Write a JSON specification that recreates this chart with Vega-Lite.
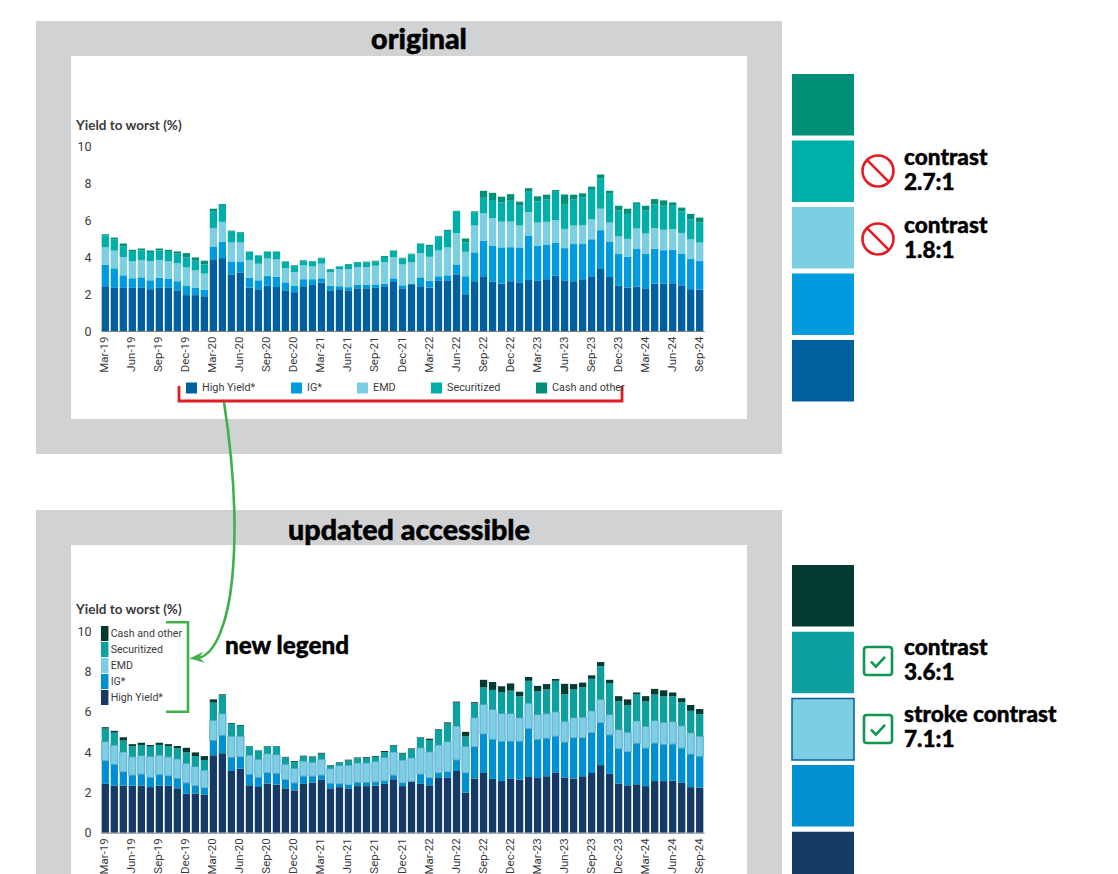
{"$schema":"https://vega.github.io/schema/vega-lite/v6.json","width":1118,"height":874,"padding":0,"autosize":{"type":"none"},"background":"white","config":{"view":{"stroke":null},"axis":{"grid":false}},
"datasets":{"yields":[
{"m":"Mar-19","High Yield*":2.42,"IG*":1.15,"EMD":0.95,"Securitized":0.64,"Cash and other":0.07},
{"m":"Apr-19","High Yield*":2.33,"IG*":1.06,"EMD":0.95,"Securitized":0.62,"Cash and other":0.09},
{"m":"May-19","High Yield*":2.33,"IG*":0.68,"EMD":0.99,"Securitized":0.57,"Cash and other":0.16},
{"m":"Jun-19","High Yield*":2.33,"IG*":0.52,"EMD":0.91,"Securitized":0.52,"Cash and other":0.11},
{"m":"Jul-19","High Yield*":2.33,"IG*":0.57,"EMD":0.92,"Securitized":0.53,"Cash and other":0.11},
{"m":"Aug-19","High Yield*":2.26,"IG*":0.48,"EMD":1.04,"Securitized":0.49,"Cash and other":0.08},
{"m":"Sep-19","High Yield*":2.33,"IG*":0.54,"EMD":0.97,"Securitized":0.51,"Cash and other":0.11},
{"m":"Oct-19","High Yield*":2.33,"IG*":0.48,"EMD":0.95,"Securitized":0.52,"Cash and other":0.11},
{"m":"Nov-19","High Yield*":2.2,"IG*":0.49,"EMD":0.97,"Securitized":0.52,"Cash and other":0.12},
{"m":"Dec-19","High Yield*":1.94,"IG*":0.52,"EMD":0.98,"Securitized":0.54,"Cash and other":0.23},
{"m":"Jan-20","High Yield*":1.94,"IG*":0.39,"EMD":0.95,"Securitized":0.52,"Cash and other":0.18},
{"m":"Feb-20","High Yield*":1.88,"IG*":0.34,"EMD":0.88,"Securitized":0.5,"Cash and other":0.2},
{"m":"Mar-20","High Yield*":3.84,"IG*":0.73,"EMD":1.0,"Securitized":0.88,"Cash and other":0.16},
{"m":"Apr-20","High Yield*":3.94,"IG*":0.88,"EMD":1.08,"Securitized":0.91,"Cash and other":0.05},
{"m":"May-20","High Yield*":3.06,"IG*":0.67,"EMD":1.05,"Securitized":0.61,"Cash and other":0.04},
{"m":"Jun-20","High Yield*":3.17,"IG*":0.59,"EMD":1.02,"Securitized":0.52,"Cash and other":0.04},
{"m":"Jul-20","High Yield*":2.35,"IG*":0.54,"EMD":0.95,"Securitized":0.44,"Cash and other":0.02},
{"m":"Aug-20","High Yield*":2.26,"IG*":0.48,"EMD":0.9,"Securitized":0.43,"Cash and other":0.02},
{"m":"Sep-20","High Yield*":2.44,"IG*":0.53,"EMD":0.95,"Securitized":0.36,"Cash and other":0.02},
{"m":"Oct-20","High Yield*":2.38,"IG*":0.56,"EMD":0.93,"Securitized":0.41,"Cash and other":0.02},
{"m":"Nov-20","High Yield*":2.2,"IG*":0.43,"EMD":0.76,"Securitized":0.34,"Cash and other":0.03},
{"m":"Dec-20","High Yield*":2.1,"IG*":0.36,"EMD":0.73,"Securitized":0.32,"Cash and other":0.04},
{"m":"Jan-21","High Yield*":2.42,"IG*":0.38,"EMD":0.75,"Securitized":0.23,"Cash and other":0.04},
{"m":"Feb-21","High Yield*":2.49,"IG*":0.31,"EMD":0.69,"Securitized":0.26,"Cash and other":0.03},
{"m":"Mar-21","High Yield*":2.62,"IG*":0.23,"EMD":0.79,"Securitized":0.28,"Cash and other":0.04},
{"m":"Apr-21","High Yield*":2.2,"IG*":0.24,"EMD":0.73,"Securitized":0.15,"Cash and other":0.03},
{"m":"May-21","High Yield*":2.26,"IG*":0.16,"EMD":0.91,"Securitized":0.13,"Cash and other":0.03},
{"m":"Jun-21","High Yield*":2.2,"IG*":0.17,"EMD":0.98,"Securitized":0.23,"Cash and other":0.04},
{"m":"Jul-21","High Yield*":2.31,"IG*":0.18,"EMD":0.97,"Securitized":0.23,"Cash and other":0.04},
{"m":"Aug-21","High Yield*":2.31,"IG*":0.18,"EMD":0.97,"Securitized":0.25,"Cash and other":0.04},
{"m":"Sep-21","High Yield*":2.33,"IG*":0.18,"EMD":1.02,"Securitized":0.23,"Cash and other":0.04},
{"m":"Oct-21","High Yield*":2.42,"IG*":0.14,"EMD":1.17,"Securitized":0.27,"Cash and other":0.05},
{"m":"Nov-21","High Yield*":2.65,"IG*":0.2,"EMD":1.15,"Securitized":0.32,"Cash and other":0.03},
{"m":"Dec-21","High Yield*":2.31,"IG*":0.16,"EMD":1.13,"Securitized":0.32,"Cash and other":0.04},
{"m":"Jan-22","High Yield*":2.53,"IG*":0.01,"EMD":1.17,"Securitized":0.43,"Cash and other":0.04},
{"m":"Feb-22","High Yield*":2.42,"IG*":0.48,"EMD":1.31,"Securitized":0.49,"Cash and other":0.03},
{"m":"Mar-22","High Yield*":2.35,"IG*":0.37,"EMD":1.29,"Securitized":0.58,"Cash and other":0.07},
{"m":"Apr-22","High Yield*":2.71,"IG*":0.25,"EMD":1.39,"Securitized":0.76,"Cash and other":0.03},
{"m":"May-22","High Yield*":2.74,"IG*":0.27,"EMD":1.51,"Securitized":0.89,"Cash and other":0.06},
{"m":"Jun-22","High Yield*":3.06,"IG*":0.54,"EMD":1.69,"Securitized":1.16,"Cash and other":0.05},
{"m":"Jul-22","High Yield*":1.99,"IG*":0.97,"EMD":1.32,"Securitized":0.5,"Cash and other":0.22},
{"m":"Aug-22","High Yield*":2.69,"IG*":1.56,"EMD":1.45,"Securitized":0.72,"Cash and other":0.05},
{"m":"Sep-22","High Yield*":2.96,"IG*":1.93,"EMD":1.47,"Securitized":0.84,"Cash and other":0.38},
{"m":"Oct-22","High Yield*":2.67,"IG*":1.95,"EMD":1.49,"Securitized":0.97,"Cash and other":0.39},
{"m":"Nov-22","High Yield*":2.56,"IG*":1.96,"EMD":1.39,"Securitized":1.04,"Cash and other":0.31},
{"m":"Dec-22","High Yield*":2.69,"IG*":1.84,"EMD":1.38,"Securitized":1.13,"Cash and other":0.36},
{"m":"Jan-23","High Yield*":2.63,"IG*":1.89,"EMD":1.18,"Securitized":1.07,"Cash and other":0.22},
{"m":"Feb-23","High Yield*":2.76,"IG*":2.4,"EMD":1.26,"Securitized":1.11,"Cash and other":0.19},
{"m":"Mar-23","High Yield*":2.71,"IG*":1.91,"EMD":1.24,"Securitized":1.15,"Cash and other":0.27},
{"m":"Apr-23","High Yield*":2.8,"IG*":1.88,"EMD":1.22,"Securitized":1.2,"Cash and other":0.27},
{"m":"May-23","High Yield*":2.99,"IG*":1.79,"EMD":1.21,"Securitized":1.54,"Cash and other":0.09},
{"m":"Jun-23","High Yield*":2.74,"IG*":1.74,"EMD":1.04,"Securitized":1.34,"Cash and other":0.52},
{"m":"Jul-23","High Yield*":2.69,"IG*":2.01,"EMD":1.0,"Securitized":1.4,"Cash and other":0.27},
{"m":"Aug-23","High Yield*":2.8,"IG*":1.9,"EMD":1.02,"Securitized":1.5,"Cash and other":0.22},
{"m":"Sep-23","High Yield*":2.96,"IG*":2.0,"EMD":1.08,"Securitized":1.59,"Cash and other":0.17},
{"m":"Oct-23","High Yield*":3.35,"IG*":2.1,"EMD":1.16,"Securitized":1.65,"Cash and other":0.2},
{"m":"Nov-23","High Yield*":2.92,"IG*":1.92,"EMD":1.02,"Securitized":1.56,"Cash and other":0.16},
{"m":"Dec-23","High Yield*":2.44,"IG*":1.72,"EMD":0.95,"Securitized":1.41,"Cash and other":0.25},
{"m":"Jan-24","High Yield*":2.35,"IG*":1.66,"EMD":0.97,"Securitized":1.35,"Cash and other":0.28},
{"m":"Feb-24","High Yield*":2.4,"IG*":2.03,"EMD":1.11,"Securitized":1.32,"Cash and other":0.09},
{"m":"Mar-24","High Yield*":2.31,"IG*":1.88,"EMD":1.08,"Securitized":1.24,"Cash and other":0.26},
{"m":"Apr-24","High Yield*":2.56,"IG*":1.88,"EMD":1.12,"Securitized":1.29,"Cash and other":0.28},
{"m":"May-24","High Yield*":2.56,"IG*":1.81,"EMD":1.1,"Securitized":1.3,"Cash and other":0.29},
{"m":"Jun-24","High Yield*":2.58,"IG*":1.81,"EMD":1.11,"Securitized":1.27,"Cash and other":0.18},
{"m":"Jul-24","High Yield*":2.47,"IG*":1.72,"EMD":1.11,"Securitized":1.17,"Cash and other":0.2},
{"m":"Aug-24","High Yield*":2.26,"IG*":1.63,"EMD":1.06,"Securitized":1.09,"Cash and other":0.29},
{"m":"Sep-24","High Yield*":2.24,"IG*":1.54,"EMD":1.0,"Securitized":1.1,"Cash and other":0.25}
],
"panels":[{"panel":"original"},{"panel":"updated accessible"}],
"series":[{"s":"Cash and other"},{"s":"Securitized"},{"s":"EMD"},{"s":"IG*"},{"s":"High Yield*"}],
"notesTop":[{"s":"Securitized","note":"contrast\n2.7:1"},{"s":"EMD","note":"contrast\n1.8:1"}],
"notesBottom":[{"s":"Securitized","note":"contrast\n3.6:1"},{"s":"EMD","note":"stroke contrast\n7.1:1"}],
"one":[{"label":"new legend"}]},
"layer":[
{"data":{"name":"panels"},"mark":{"type":"rect","color":"#d1d2d4"},"encoding":{"y":{"field":"panel","type":"nominal","axis":null,"scale":{"type":"band","domain":["original","updated accessible"],"range":[21,943],"paddingInner":0.1145,"paddingOuter":0}},"x":{"value":36},"x2":{"value":782}}},
{"data":{"name":"panels"},"mark":{"type":"rect","color":"#ffffff"},"encoding":{"y":{"field":"panel","type":"nominal","axis":null,"scale":{"type":"band","domain":["original","updated accessible"],"range":[56,908],"paddingInner":0.2577,"paddingOuter":0}},"x":{"value":71},"x2":{"value":747}}},
{"data":{"name":"panels"},"mark":{"type":"text","font":"Lato","fontWeight":900,"fontSize":28.7,"stroke":"#000000","strokeWidth":0.5,"color":"#000000","align":"center","baseline":"middle"},"encoding":{"text":{"field":"panel"},"y":{"field":"panel","type":"nominal","axis":null,"scale":{"type":"point","domain":["original","updated accessible"],"range":[40,531],"padding":0}},"x":{"field":"panel","type":"nominal","axis":null,"scale":{"type":"point","domain":["original","updated accessible"],"range":[419,409],"padding":0}}}},
{"data":{"name":"yields"},"transform":[{"fold":["High Yield*","IG*","EMD","Securitized","Cash and other"],"as":["s","v"]},{"calculate":"indexof(['High Yield*','IG*','EMD','Securitized','Cash and other'],datum.s)","as":"rank"}],"mark":{"type":"bar"},"encoding":{
"x":{"field":"m","type":"nominal","sort":null,"title":null,"scale":{"type":"band","range":[100.8,704.2],"paddingInner":0.19,"paddingOuter":0.095},"axis":{"zindex":1,"orient":"bottom","offset":-543,"values":["Mar-19","Jun-19","Sep-19","Dec-19","Mar-20","Jun-20","Sep-20","Dec-20","Mar-21","Jun-21","Sep-21","Dec-21","Mar-22","Jun-22","Sep-22","Dec-22","Mar-23","Jun-23","Sep-23","Dec-23","Mar-24","Jun-24","Sep-24"],"labelAngle":270,"labelAlign":"right","labelBaseline":"middle","labelPadding":5,"labelFont":"Roboto","labelFontSize":11.5,"labelColor":"#3a3a3c","ticks":false,"domainColor":"#808285","labelOverlap":false}},
"y":{"field":"v","type":"quantitative","stack":"zero","scale":{"domain":[0,10],"range":[331,146],"nice":false},"axis":{"zindex":1,"orient":"left","offset":-95,"values":[0,2,4,6,8,10],"domain":false,"ticks":false,"labelPadding":4,"labelFont":"Roboto","labelFontSize":12.5,"labelColor":"#3a3a3c","title":"Yield to worst (%)","titleFont":"Lato","titleFontWeight":"bold","titleFontSize":13.5,"titleColor":"#3a3a3c","titleAngle":0,"titleAlign":"left","titleBaseline":"middle","titleX":-19.5,"titleY":125}},
"color":{"field":"s","type":"nominal","scale":{"domain":["High Yield*","IG*","EMD","Securitized","Cash and other"],"range":["#005f9e","#009ade","#7ccfe3","#00afa9","#009078"]},"legend":{"title":null,"orient":"none","legendX":186,"legendY":382.5,"direction":"horizontal","columns":5,"gridAlign":"none","symbolType":"square","symbolSize":121,"symbolStrokeWidth":0,"symbolOpacity":1,"labelFont":"Roboto","labelFontSize":10.8,"labelColor":"#3a3a3c","labelOffset":5,"columnPadding":35,"padding":0}},
"order":{"field":"rank"}}},
{"data":{"name":"yields"},"transform":[{"fold":["High Yield*","IG*","EMD","Securitized","Cash and other"],"as":["s","v"]},{"calculate":"indexof(['High Yield*','IG*','EMD','Securitized','Cash and other'],datum.s)","as":"rank"}],"mark":{"type":"bar","strokeWidth":0.7},"encoding":{
"x":{"field":"m","type":"nominal","sort":null,"title":null,"scale":{"type":"band","range":[100.8,704.2],"paddingInner":0.19,"paddingOuter":0.095},"axis":{"zindex":1,"orient":"bottom","offset":-41.3,"values":["Mar-19","Jun-19","Sep-19","Dec-19","Mar-20","Jun-20","Sep-20","Dec-20","Mar-21","Jun-21","Sep-21","Dec-21","Mar-22","Jun-22","Sep-22","Dec-22","Mar-23","Jun-23","Sep-23","Dec-23","Mar-24","Jun-24","Sep-24"],"labelAngle":270,"labelAlign":"right","labelBaseline":"middle","labelPadding":5,"labelFont":"Roboto","labelFontSize":11.5,"labelColor":"#3a3a3c","ticks":false,"domainColor":"#808285","labelOverlap":false}},
"y":{"field":"v","type":"quantitative","stack":"zero","scale":{"domain":[0,10],"range":[832.7,631],"nice":false},"axis":{"zindex":1,"orient":"left","offset":-95,"values":[0,2,4,6,8,10],"domain":false,"ticks":false,"labelPadding":4,"labelFont":"Roboto","labelFontSize":12.5,"labelColor":"#3a3a3c","title":"Yield to worst (%)","titleFont":"Lato","titleFontWeight":"bold","titleFontSize":13.5,"titleColor":"#3a3a3c","titleAngle":0,"titleAlign":"left","titleBaseline":"middle","titleX":-19.5,"titleY":609}},
"color":{"field":"s","type":"nominal","scale":{"domain":["High Yield*","IG*","EMD","Securitized","Cash and other"],"range":["#163a66","#008fd0","#7ccfe2","#0ea09e","#033a31"]},"legend":{"title":null,"orient":"none","legendX":97.2,"legendY":626,"direction":"vertical","values":["Cash and other","Securitized","EMD","IG*","High Yield*"],"symbolType":"M-0.5,-1H0.5V1H-0.5Z","symbolSize":225,"symbolStrokeWidth":0,"symbolOpacity":1,"labelFont":"Roboto","labelFontSize":10.6,"labelColor":"#3a3a3c","labelOffset":-1.5,"rowPadding":1,"padding":0}},
"stroke":{"condition":{"test":"datum.s==='EMD'","value":"#3a93c9"},"value":null},
"order":{"field":"rank"}}},
{"data":{"name":"series"},"mark":{"type":"rect"},"encoding":{"y":{"field":"s","type":"nominal","axis":null,"sort":null,"scale":{"type":"band","domain":["Cash and other","Securitized","EMD","IG*","High Yield*"],"range":[74,401.5],"paddingInner":0.075,"paddingOuter":0}},"x":{"value":792},"x2":{"value":854},"color":{"field":"s","type":"nominal","legend":null,"scale":{"domain":["High Yield*","IG*","EMD","Securitized","Cash and other"],"range":["#005f9e","#009ade","#7ccfe3","#00afa9","#009078"]}}}},
{"data":{"name":"series"},"mark":{"type":"rect"},"encoding":{"y":{"field":"s","type":"nominal","axis":null,"sort":null,"scale":{"type":"band","domain":["Cash and other","Securitized","EMD","IG*","High Yield*"],"range":[565,893.3],"paddingInner":0.078,"paddingOuter":0}},"x":{"value":792},"x2":{"value":854},"color":{"field":"s","type":"nominal","legend":null,"scale":{"domain":["High Yield*","IG*","EMD","Securitized","Cash and other"],"range":["#163a66","#008fd0","#7ccfe2","#0ea09e","#033a31"]}},"stroke":{"condition":{"test":"datum.s==='EMD'","value":"#0a5c9c"},"value":null},"strokeWidth":{"value":1.5}}},
{"data":{"name":"notesTop"},"mark":{"type":"text","font":"Lato","fontWeight":900,"fontSize":22.6,"stroke":"#000000","strokeWidth":0.4,"lineHeight":25,"lineBreak":"\n","align":"left","baseline":"middle","color":"#000000"},"encoding":{"text":{"field":"note"},"x":{"value":904},"y":{"field":"s","type":"nominal","axis":null,"scale":{"type":"point","domain":["Securitized","EMD"],"range":[158,226],"padding":0}}}},
{"data":{"name":"notesBottom"},"mark":{"type":"text","font":"Lato","fontWeight":900,"fontSize":22.6,"stroke":"#000000","strokeWidth":0.4,"lineHeight":25,"lineBreak":"\n","align":"left","baseline":"middle","color":"#000000"},"encoding":{"text":{"field":"note"},"x":{"value":904},"y":{"field":"s","type":"nominal","axis":null,"scale":{"type":"point","domain":["Securitized","EMD"],"range":[648,715],"padding":0}}}},
{"data":{"name":"notesTop"},"mark":{"type":"point","filled":false,"shape":"M-1,0A1,1 0 1,1 1,0A1,1 0 1,1 -1,0ZM-0.7,-0.7L0.7,0.7","size":961,"stroke":"#e31b23","strokeWidth":2.6,"opacity":1},"encoding":{"x":{"value":878},"y":{"field":"s","type":"nominal","axis":null,"scale":{"type":"point","domain":["Securitized","EMD"],"range":[171,239],"padding":0}}}},
{"data":{"name":"notesBottom"},"mark":{"type":"point","filled":false,"shape":"M-0.8,-1H0.8Q1,-1 1,-0.8V0.8Q1,1 0.8,1H-0.8Q-1,1 -1,0.8V-0.8Q-1,-1 -0.8,-1ZM-0.5,0.05L-0.15,0.4L0.5,-0.3","size":784,"stroke":"#0f9650","strokeWidth":2.6,"opacity":1},"encoding":{"x":{"value":878},"y":{"field":"s","type":"nominal","axis":null,"scale":{"type":"point","domain":["Securitized","EMD"],"range":[661,729],"padding":0}}}},
{"data":{"name":"one"},"mark":{"type":"text","font":"Lato","fontWeight":900,"fontSize":24.3,"stroke":"#000000","strokeWidth":0.4,"align":"left","baseline":"middle","color":"#000000"},"encoding":{"text":{"field":"label"},"x":{"value":225},"y":{"value":647}}},
{"data":{"name":"one"},"mark":{"type":"point","filled":false,"shape":"M-221.5,-7.5V7.5H221.5V-7.5","size":4,"stroke":"#e31b23","strokeWidth":2.8,"opacity":1},"encoding":{"x":{"value":400.5},"y":{"value":393.5}}},
{"data":{"name":"one"},"mark":{"type":"point","filled":false,"shape":"M-11,-44.7H11V44.7H-11","size":4,"stroke":"#3fb14b","strokeWidth":2.6,"opacity":1},"encoding":{"x":{"value":177},"y":{"value":667}}},
{"data":{"name":"one"},"mark":{"type":"point","filled":false,"shape":"M-6,-128C6,-50 6,10 2,50C-2,90 -14,125 -32,128","size":4,"stroke":"#3fb14b","strokeWidth":2.6,"opacity":1},"encoding":{"x":{"value":230},"y":{"value":530}}},
{"data":{"name":"one"},"mark":{"type":"point","filled":true,"shape":"M-40.7,128.5L-26.7,121.7L-31,127.7L-25,132.7Z","size":4,"fill":"#3fb14b","stroke":null,"opacity":1},"encoding":{"x":{"value":230},"y":{"value":530}}}
],
"resolve":{"scale":{"x":"independent","y":"independent","color":"independent","stroke":"independent"},"axis":{"x":"independent","y":"independent"},"legend":{"color":"independent"}}}
